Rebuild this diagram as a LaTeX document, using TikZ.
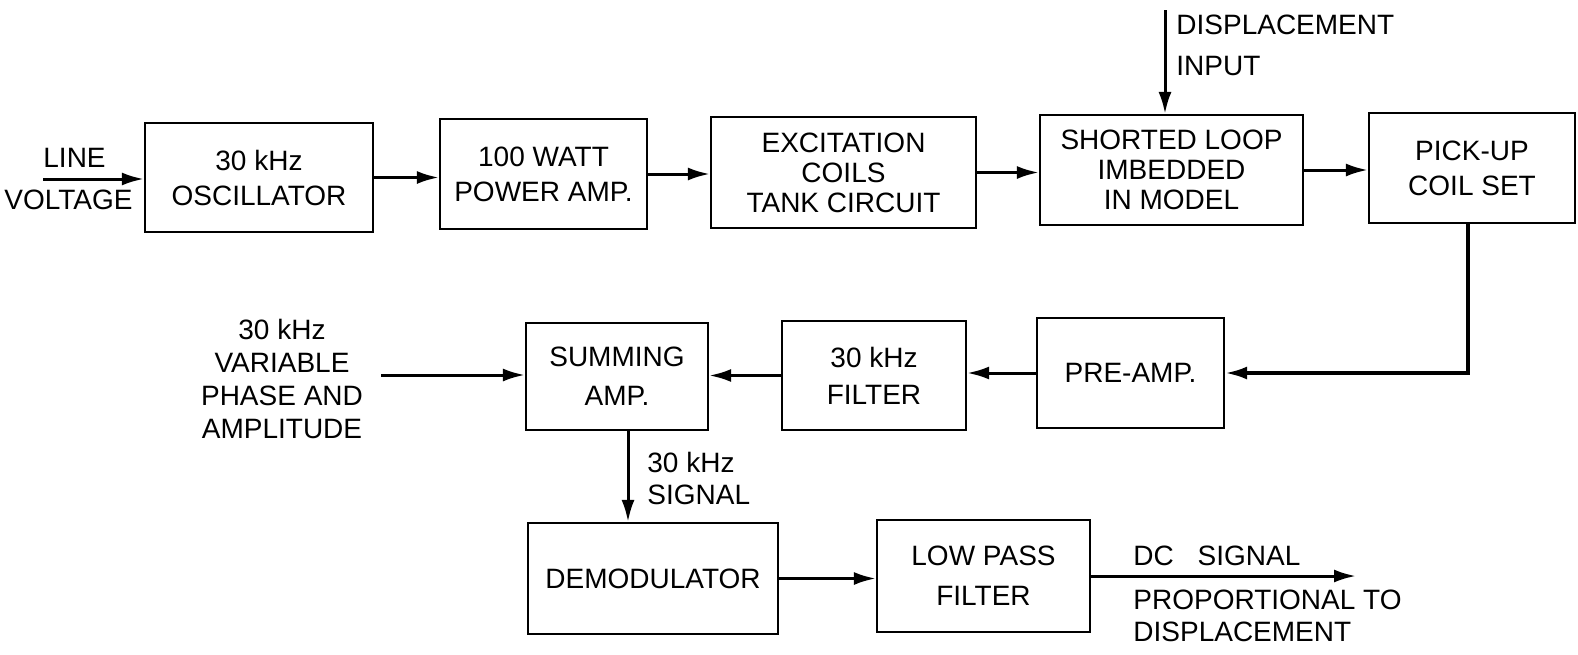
\documentclass[tikz,border=0pt]{standalone}
\usepackage{fontspec}
\setmainfont{Liberation Sans}
\usetikzlibrary{arrows.meta}
\begin{document}
\begin{tikzpicture}[x=0.5pt,y=-0.5pt,
  box/.style={draw, line width=1.1pt, inner sep=0pt, align=center, font=\fontsize{14}{17.5}\selectfont},
  arr/.style={line width=1.5pt, -{Latex[length=11pt,width=6.5pt]}},
  lab/.style={inner sep=0pt, align=center, font=\fontsize{14}{16.5}\selectfont}]
\fill[white] (0,0) rectangle (1578,654);
\useasboundingbox (0,0) rectangle (1578,654);

% row 1
\node[box, minimum width=114pt, minimum height=54.5pt] (osc) at (259,177.5) {30 kHz\\OSCILLATOR};
\node[box, minimum width=103.5pt, minimum height=55pt] (pamp) at (543.5,174) {100 WATT\\POWER AMP.};
\node[box, minimum width=132.5pt, minimum height=55.5pt, font=\fontsize{14}{15}\selectfont] (exc) at (843.5,172.5) {EXCITATION\\COILS\\TANK CIRCUIT};
\node[box, minimum width=131.5pt, minimum height=55pt, font=\fontsize{14}{15}\selectfont] (loop) at (1171.5,170) {SHORTED LOOP\\IMBEDDED\\IN MODEL};
\node[box, minimum width=103pt, minimum height=55pt] (pick) at (1472,168) {PICK-UP\\COIL SET};

% row 2
\node[box, minimum width=91pt, minimum height=53.5pt, font=\fontsize{14}{19.5}\selectfont] (sum) at (617,376.5) {SUMMING\\AMP.};
\node[box, minimum width=92pt, minimum height=54.5pt, font=\fontsize{14}{18.5}\selectfont] (filt) at (874,375.5) {30 kHz\\FILTER};
\node[box, minimum width=93.5pt, minimum height=55pt] (pre) at (1130.5,373) {PRE-AMP.};

% row 3
\node[box, minimum width=125pt, minimum height=55.5pt] (demod) at (653,578.5) {DEMODULATOR};
\node[box, minimum width=106.5pt, minimum height=56pt, font=\fontsize{14}{20}\selectfont] (lpf) at (983.5,576) {LOW PASS\\FILTER};

% labels
\node[lab, anchor=west] (line) at (43,158) {LINE};
\node[lab, anchor=east] (volt) at (133,200) {VOLTAGE};
\node[lab, anchor=west] (disp) at (1176,25) {DISPLACEMENT};
\node[lab, anchor=west] (dinp) at (1176,66) {INPUT};
\node[lab] (var) at (282,379) {30 kHz\\VARIABLE\\PHASE AND\\AMPLITUDE};
\node[lab, anchor=west, align=left, font=\fontsize{14}{16}\selectfont] (sig) at (647,478) {30 kHz\\SIGNAL};
\node[lab, anchor=west] (dcs) at (1133,556) {DC \hspace{8pt}SIGNAL};
\node[lab, anchor=west] (prop) at (1133,600) {PROPORTIONAL TO};
\node[lab, anchor=west] (pdisp) at (1133,632) {DISPLACEMENT};

% connectors
\coordinate (lin) at (43,179);
\draw[arr] (lin) -- (lin -| osc.west);
\draw[arr] (osc.east) -- (osc.east -| pamp.west);
\draw[arr] (pamp.east) -- (pamp.east -| exc.west);
\draw[arr] (exc.east) -- (exc.east -| loop.west);
\draw[arr] (loop.east) -- (loop.east -| pick.west);
\coordinate (dtop) at (1165,10);
\draw[arr] (dtop) -- (dtop |- loop.north);
\draw[arr, line width=1.8pt] ([xshift=-2pt]pick.south) |- (pre.east);
\draw[arr] (pre.west) -- (pre.west -| filt.east);
\draw[arr] (filt.west) -- (filt.west -| sum.east);
\coordinate (vin) at (381,375);
\draw[arr] (vin) -- (vin -| sum.west);
\draw[arr] ([xshift=5.5pt]sum.south) -- ([xshift=5.5pt]sum.south |- demod.north);
\draw[arr] (demod.east) -- (demod.east -| lpf.west);
\coordinate (out) at (1356,575);
\draw[arr] (lpf.east) -- (lpf.east -| out);
\end{tikzpicture}
\end{document}
